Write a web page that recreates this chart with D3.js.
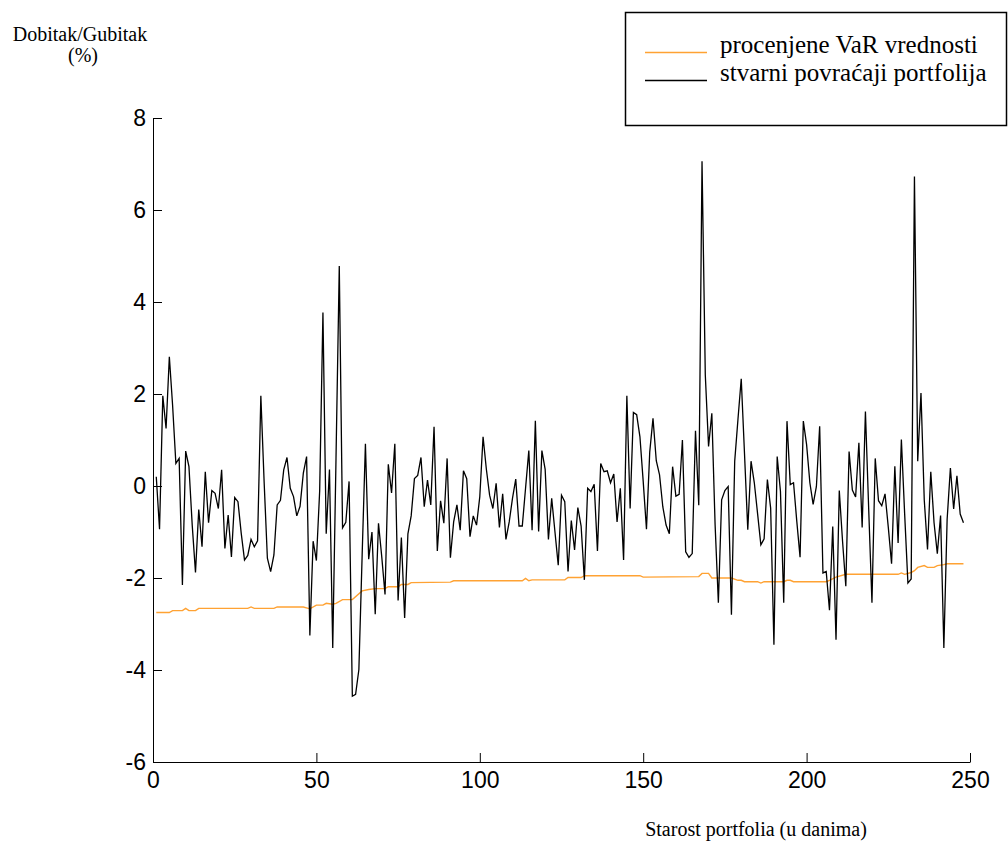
<!DOCTYPE html>
<html>
<head>
<meta charset="UTF-8">
<style>
  body { margin: 0; background: #fff; }
  .tick text { font: 23px "Liberation Sans", Arial, sans-serif; fill: #000; }
  .ttl { font-family: "Liberation Serif", "Times New Roman", serif; fill: #000; }
</style>
</head>
<body>
<svg width="1008" height="841"></svg>
<script src="https://d3js.org/d3.v7.min.js"></script>
<script>

// actual daily portfolio returns (%), days 1..248
let returns = [
   0.20, -0.94,  1.96,  1.25,  2.81,  1.75,  0.49,  0.60, -2.15,  0.76,
   0.42, -0.85, -1.88, -0.51, -1.32,  0.31, -0.80, -0.10, -0.16, -0.49,
   0.35, -1.36, -0.63, -1.54, -0.25, -0.34, -1.03, -1.61, -1.51, -1.16,
  -1.32, -1.19,  1.96,  0.10, -1.57, -1.86, -1.50, -0.41, -0.31,  0.35,
   0.62, -0.05, -0.23, -0.65, -0.44,  0.28,  0.64, -3.25, -1.20, -1.62,
  -0.11,  3.77, -1.04,  0.36, -3.52,  0.60,  4.78, -0.91, -0.79,  0.10,
  -4.57, -4.53, -3.99, -1.50,  0.92, -1.59, -1.00, -2.79, -0.81, -1.54,
  -2.36,  0.47, -0.15,  0.92, -2.49, -1.12, -2.87, -1.04, -0.65,  0.16,
   0.23,  0.62, -0.45,  0.13, -0.41,  1.29, -1.41, -0.32, -0.81,  0.60,
  -1.56, -0.78, -0.41, -0.96,  0.33,  0.16, -1.10, -0.65, -0.85, -0.23,
   1.07,  0.37, -0.20, -0.49,  0.06, -0.90, -0.17, -1.16, -0.78, -0.27,
   0.15, -0.87, -0.87, -0.05,  0.77, -0.96,  1.42, -0.99,  0.77,  0.36,
  -1.16, -0.27, -1.00, -1.72, -0.20, -0.34, -1.86, -0.75, -1.39, -0.47,
  -0.87, -2.04, -0.05, -0.12,  0.04, -1.41,  0.49,  0.31,  0.33,  0.07,
   0.26, -0.78, -0.05, -1.61,  1.96, -0.49,  1.60,  1.55,  1.07,  0.10,
  -0.94,  0.74,  1.47,  0.55,  0.24, -0.45, -0.85, -1.04,  0.42, -0.22,
  -0.18,  1.00, -1.43, -1.55, -1.47,  1.20, -0.42,  7.06,  2.42,  0.86,
   1.58, -0.84, -2.54, -0.30, -0.10, -0.01, -2.80,  0.54,  1.45,  2.33,
   0.70, -0.95,  0.54,  0.07, -0.60, -1.28, -1.15,  0.14, -0.48, -3.45,
   0.64, -0.12, -2.54,  1.41,  0.03,  0.07, -0.77, -1.55,  1.41,  0.90,
   0.07, -0.40, -0.01,  1.30, -1.89, -1.86, -2.70, -0.88, -3.34, -0.10,
  -1.20, -2.18,  0.75, -0.09, -0.24,  0.94, -0.90,  1.62, -0.50, -2.54,
   0.60, -0.32, -0.43, -0.17, -0.90, -1.69,  0.43, -1.24,  1.01, -0.60,
  -2.11, -2.02,  6.73,  0.54,  2.02, -0.30, -1.38,  0.31, -0.80, -1.47,
  -0.64, -3.52, -0.73,  0.39, -0.50,  0.22, -0.61, -0.80
];

// estimated VaR line: day where the level changes, and the level
let varDays = [1, 5, 6, 9, 10, 11, 13, 14, 29, 30, 31, 37, 38, 46, 48, 50, 52, 53, 55, 56,
  58, 61, 64, 66, 68, 71, 72, 75, 76, 78, 79, 91, 92, 113, 114, 115, 116, 126, 127, 131,
  132, 149, 150, 167, 168, 170, 171, 177, 179, 180, 181, 185, 186, 187, 193, 194, 195, 196, 206, 207,
  209, 212, 228, 229, 230, 232, 233, 234, 236, 237, 239, 240, 242, 243, 248];
let varValues = [-2.75, -2.75, -2.71, -2.71, -2.66, -2.71, -2.71, -2.66, -2.66, -2.63, -2.66, -2.66, -2.63, -2.63, -2.67, -2.59, -2.59, -2.55, -2.57, -2.55,
  -2.47, -2.47, -2.28, -2.25, -2.23, -2.23, -2.19, -2.19, -2.14, -2.14, -2.10, -2.09, -2.06, -2.06, -2.01, -2.06, -2.04, -2.04, -1.99, -1.99,
  -1.95, -1.95, -1.98, -1.97, -1.90, -1.90, -2.00, -2.00, -2.05, -2.05, -2.08, -2.08, -2.11, -2.08, -2.08, -2.05, -2.05, -2.08, -2.08, -2.05,
  -1.98, -1.92, -1.92, -1.89, -1.92, -1.88, -1.84, -1.77, -1.73, -1.77, -1.77, -1.73, -1.71, -1.69, -1.69];

let xTicks = [0, 50, 100, 150, 200, 250];
let yTicks = [-6, -4, -2, 0, 2, 4, 6, 8];

let legendLabels = ["procenjene VaR vrednosti", "stvarni povraćaji portfolija"];
let colors = ["#ffa233", "#000000"];

let svg = d3.select("svg");

let x = d3.scaleLinear().domain([0, 250]).range([153, 970]);
let y = d3.scaleLinear().domain([-6, 8]).range([762, 118]);

// axes, ticks pointing inward, plain hyphen for negatives
svg.append("g")
    .attr("transform", "translate(0,762)")
    .call(d3.axisBottom(x).tickValues(xTicks).tickFormat(d => String(d))
        .tickSizeInner(-9).tickSizeOuter(0).tickPadding(10));

svg.append("g")
    .attr("transform", "translate(153,0)")
    .call(d3.axisLeft(y).tickValues(yTicks).tickFormat(d => String(d))
        .tickSizeInner(-9).tickSizeOuter(0).tickPadding(7));

svg.selectAll(".domain, .tick line").attr("stroke", "#000");

let retLine = d3.line()
    .x((d, i) => x(i + 1))
    .y(d => y(d));

let varLine = d3.line()
    .x(d => x(d[0]))
    .y(d => y(d[1]));

svg.append("path")
    .datum(d3.zip(varDays, varValues))
    .attr("d", varLine)
    .attr("fill", "none")
    .attr("stroke", colors[0])
    .attr("stroke-width", 1.4);

svg.append("path")
    .datum(returns)
    .attr("d", retLine)
    .attr("fill", "none")
    .attr("stroke", colors[1])
    .attr("stroke-width", 1.3);

// axis titles
svg.append("text").attr("class", "ttl")
    .attr("x", 80).attr("y", 41)
    .attr("text-anchor", "middle").attr("font-size", 20)
    .text("Dobitak/Gubitak");
svg.append("text").attr("class", "ttl")
    .attr("x", 83).attr("y", 62)
    .attr("text-anchor", "middle").attr("font-size", 20)
    .text("(%)");
svg.append("text").attr("class", "ttl")
    .attr("x", 756).attr("y", 836)
    .attr("text-anchor", "middle").attr("font-size", 20)
    .text("Starost portfolia (u danima)");

// legend
let legend = svg.append("g");
legend.append("rect")
    .attr("x", 625.5).attr("y", 12.5)
    .attr("width", 381).attr("height", 113)
    .attr("fill", "#fff")
    .attr("stroke", "#000")
    .attr("stroke-width", 1.5);

let rowY = [53, 81];

let rows = legend.selectAll("g.row")
    .data(legendLabels)
    .enter().append("g")
    .attr("class", "row");

rows.append("line")
    .attr("x1", 645).attr("x2", 707)
    .attr("y1", (d, i) => rowY[i] - 0.5)
    .attr("y2", (d, i) => rowY[i] - 0.5)
    .attr("stroke", (d, i) => colors[i])
    .attr("stroke-width", 1.5);

rows.append("text")
    .attr("class", "ttl")
    .attr("x", 720)
    .attr("y", (d, i) => rowY[i])
    .attr("font-size", 25)
    .text(d => d);

</script>
</body>
</html>
